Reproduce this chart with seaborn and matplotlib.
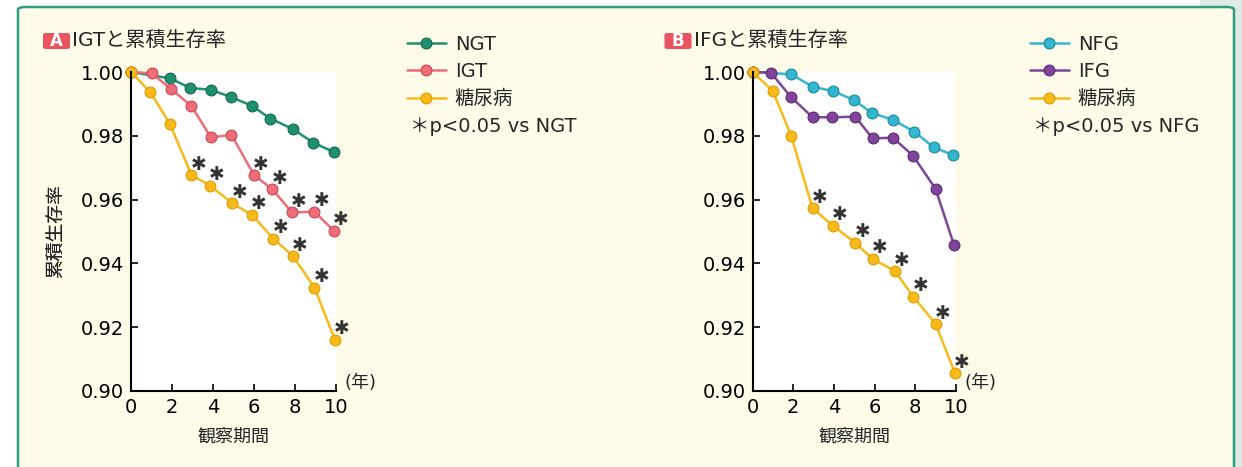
import pandas as pd
import seaborn as sns
import matplotlib.pyplot as plt
from matplotlib.patches import FancyBboxPatch, Rectangle

# ---- data ----
# A: IGT
t_ngt = [0, 1.9, 2.9, 3.9, 4.9, 5.9, 6.8, 7.9, 8.9, 9.9]
s_ngt = [1.000, 0.998, 0.995, 0.9944, 0.9921, 0.9894, 0.9854, 0.9821, 0.9778, 0.9749]
t_igt = [0, 1.0, 1.95, 2.95, 3.9, 4.9, 6.0, 6.9, 7.85, 8.95, 9.9]
s_igt = [1.000, 0.9996, 0.9947, 0.9893, 0.9795, 0.9803, 0.9677, 0.9632, 0.956, 0.9562, 0.9502]
t_dm_a = [0, 0.95, 1.9, 2.95, 3.85, 4.95, 5.9, 6.95, 7.9, 8.95, 9.95]
s_dm_a = [1.000, 0.9936, 0.9837, 0.9677, 0.9644, 0.9588, 0.9552, 0.9477, 0.9423, 0.9324, 0.916]
sig_igt = [0, 0, 0, 0, 0, 0, 1, 1, 1, 1, 1]
sig_dm_a = [0, 0, 0, 1, 1, 1, 1, 1, 1, 1, 1]

# B: IFG
t_nfg = [0, 1.9, 2.95, 3.95, 5.0, 5.85, 6.9, 7.95, 8.9, 9.85]
s_nfg = [1.000, 0.9993, 0.9954, 0.994, 0.9912, 0.9872, 0.985, 0.9813, 0.9764, 0.974]
t_ifg = [0, 0.9, 1.9, 2.95, 3.9, 5.05, 5.9, 6.9, 7.9, 9.0, 9.9]
s_ifg = [1.000, 0.9998, 0.9921, 0.9858, 0.9858, 0.986, 0.9792, 0.9794, 0.9737, 0.9633, 0.9458]
t_dm_b = [0, 1.0, 1.9, 2.95, 3.95, 5.05, 5.9, 7.0, 7.9, 9.0, 9.95]
s_dm_b = [1.000, 0.994, 0.980, 0.9573, 0.9518, 0.9465, 0.9414, 0.9376, 0.9296, 0.921, 0.9056]
sig_dm_b = [0, 0, 0, 1, 1, 1, 1, 1, 1, 1, 1]

x_ticks = [0, 2, 4, 6, 8, 10]
y_ticks = [0.90, 0.92, 0.94, 0.96, 0.98, 1.00]

W, H = 1242, 467
CREAM = '#fefbe9'
CJK = 'Noto Sans CJK JP'


def fx(px):
    return px / W


def fy(py):
    return 1 - py / H


def make_df(groups):
    rows = []
    for name, t, s, sig in groups:
        for i in range(len(t)):
            rows.append({'t': t[i], 's': s[i], 'group': name,
                         'sig': sig[i] if sig else 0})
    return pd.DataFrame(rows)


def draw_panel(fig, x0, x1, badge, title, groups, colors, edges, note, leg_x):
    ax = fig.add_axes([fx(x0), fy(391), fx(x1 - x0), 319 / H])
    df = make_df(groups)
    names = [g[0] for g in groups]
    sns.lineplot(data=df, x='t', y='s', hue='group', hue_order=names,
                 palette=colors, marker='o', markersize=7.8, linewidth=1.8,
                 markeredgewidth=0.8, estimator=None, sort=False,
                 legend=False, ax=ax)
    for ln, ec in zip(ax.lines, edges):
        ln.set_markeredgecolor(ec)
        ln.set_clip_on(False)
    # 有意差の＊
    for _, r in df[df['sig'] == 1].iterrows():
        ax.annotate('✱', (r['t'], r['s']), xytext=(7, 11),
                    textcoords='offset pixels', ha='center', va='center',
                    fontsize=13.5, family='DejaVu Sans',
                    color='#333333', annotation_clip=False)

    ax.set_facecolor('white')
    ax.set_xlim(0, 10)
    ax.set_ylim(0.90, 1.00)
    ax.set_xticks(x_ticks)
    ax.set_yticks(y_ticks)
    ax.set_xticklabels([str(v) for v in x_ticks])
    ax.set_yticklabels(['%.2f' % v for v in y_ticks])
    ax.tick_params(direction='in', length=5, width=1.2, labelsize=14,
                   pad=5, colors='black')
    for sp in ['top', 'right']:
        ax.spines[sp].set_visible(False)
    for sp in ['left', 'bottom']:
        ax.spines[sp].set_linewidth(1.5)
        ax.spines[sp].set_color('black')
    ax.set_xlabel('観察期間', fontsize=13)
    ax.set_ylabel('累積生存率', fontsize=13.5)
    ax.xaxis.set_label_coords(0.5, -(428 - 391) / 319)
    ax.yaxis.set_label_coords(-(x0 - 65) / (x1 - x0), 0.5)
    fig.text(fx(x1 + 8), fy(383), '(年)', fontsize=13, va='center')

    # title with badge
    bx = x0 - 88
    fig.patches.append(FancyBboxPatch((fx(bx), fy(49)), fx(27), 16 / H,
                                      boxstyle='round,pad=0,rounding_size=0.003',
                                      transform=fig.transFigure,
                                      facecolor='#e9545f', edgecolor='none'))
    fig.text(fx(bx + 13.5), fy(41), badge, color='white', fontsize=12,
             fontweight='bold', ha='center', va='center')
    fig.text(fx(bx + 29), fy(41), title, fontsize=14.5, va='center')

    fig.legend(handles=ax.lines[:len(names)], labels=names,
               loc='upper left', bbox_to_anchor=(fx(leg_x), fy(35)),
               frameon=False, fontsize=14, handlelength=2.0,
               handletextpad=0.45, labelspacing=0.42, borderpad=0,
               borderaxespad=0)
    fig.text(fx(leg_x + 3), fy(127), note, fontsize=14, va='center')
    return ax


sns.set_theme(style='ticks')
plt.rcParams['font.family'] = ['DejaVu Sans', CJK]

fig = plt.figure(figsize=(W / 100, H / 100), dpi=100)
fig.patch.set_facecolor('white')
fig.patches.append(Rectangle((fx(1200), 0), fx(42), 1, transform=fig.transFigure,
                             facecolor='#dfeae6', edgecolor='none', zorder=-3))
fig.patches.append(FancyBboxPatch((fx(18), fy(480)), fx(1216), 473 / H,
                                  boxstyle='round,pad=0,rounding_size=0.006',
                                  transform=fig.transFigure, facecolor=CREAM,
                                  edgecolor='#2e9e80', linewidth=1.8, zorder=-2))

draw_panel(fig, 131, 336, 'A', 'IGTと累積生存率',
           [('NGT', t_ngt, s_ngt, None),
            ('IGT', t_igt, s_igt, sig_igt),
            ('糖尿病', t_dm_a, s_dm_a, sig_dm_a)],
           ['#1f8f6f', '#ee6d78', '#f8ba1a'],
           ['#0f6b50', '#cc4755', '#e39c00'],
           '＊p<0.05 vs NGT', 407)

draw_panel(fig, 752.5, 956, 'B', 'IFGと累積生存率',
           [('NFG', t_nfg, s_nfg, None),
            ('IFG', t_ifg, s_ifg, None),
            ('糖尿病', t_dm_b, s_dm_b, sig_dm_b)],
           ['#34b6cf', '#80449b', '#f8ba1a'],
           ['#16899e', '#5c2a76', '#e39c00'],
           '＊p<0.05 vs NFG', 1030)

fig.savefig('out.png', dpi=100, facecolor=fig.get_facecolor())
